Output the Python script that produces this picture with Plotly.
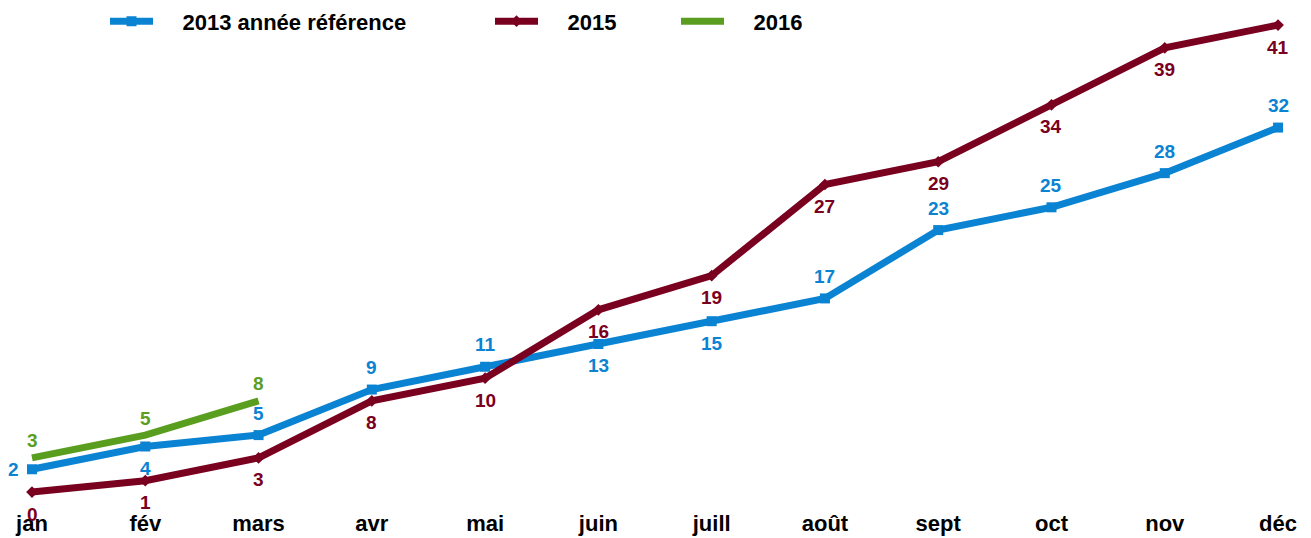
import plotly.graph_objects as go

months = ["jan", "fév", "mars", "avr", "mai", "juin", "juill", "août", "sept", "oct", "nov", "déc"]
s2013 = [2, 4, 5, 9, 11, 13, 15, 17, 23, 25, 28, 32]
s2015 = [0, 1, 3, 8, 10, 16, 19, 27, 29, 34, 39, 41]
s2016 = [3, 5, 8]

# label placement per point
pos2013 = ["left", "below", "above", "above", "above", "below", "below", "above", "above", "above", "above", "above"]
pos2015 = ["below"] * 12
pos2016 = ["above_near"] * 3

BLUE = "#0A83D3"
RED = "#7A0020"
GREEN = "#5A9E1F"
FONT = "Liberation Sans"
PAD = "\u00a0" * 4

fig = go.Figure()
fig.add_trace(go.Scatter(x=months, y=s2013, name=PAD + "2013 année référence", mode="lines+markers",
                         line=dict(color=BLUE, width=7), marker=dict(symbol="square", size=10, color=BLUE),
                         legend="legend"))
fig.add_trace(go.Scatter(x=months, y=s2015, name=PAD + "2015", mode="lines+markers",
                         line=dict(color=RED, width=7), marker=dict(symbol="diamond", size=9, color=RED),
                         legend="legend2"))
fig.add_trace(go.Scatter(x=months[:len(s2016)], y=s2016, name=PAD + "2016", mode="lines",
                         line=dict(color=GREEN, width=7), legend="legend3"))

shifts = {"above": (0, 22), "above_near": (0, 17), "below": (0, -22), "left": (-19, 0)}
anns = []
for vals, poss, col in [(s2013, pos2013, BLUE), (s2015, pos2015, RED), (s2016, pos2016, GREEN)]:
    for m, v, p in zip(months, vals, poss):
        xs, ys = shifts[p]
        anns.append(dict(x=m, y=v, text=f"<b>{v}</b>", showarrow=False, xshift=xs, yshift=ys,
                         font=dict(family=FONT, size=19, color=col)))

leg_common = dict(orientation="h", yanchor="middle", y=0.958, xanchor="left",
                  font=dict(family=FONT, size=22, color="black", weight="bold"),
                  bgcolor="rgba(0,0,0,0)", itemwidth=43)

fig.update_layout(
    width=1311, height=538,
    margin=dict(l=0, r=0, t=0, b=30),
    plot_bgcolor="white", paper_bgcolor="white",
    xaxis=dict(type="category", range=[-0.2825, 11.291], showgrid=False, zeroline=False, showline=False,
               ticks="", ticklabelstandoff=0,
               tickfont=dict(family=FONT, size=22, color="black", weight="bold")),
    yaxis=dict(range=[-1.40, 43.2], visible=False),
    annotations=anns,
    legend=dict(x=105 / 1311, **leg_common),
    legend2=dict(x=490 / 1311, **leg_common),
    legend3=dict(x=676 / 1311, **leg_common),
    showlegend=True,
)

fig.write_html("out.html")
